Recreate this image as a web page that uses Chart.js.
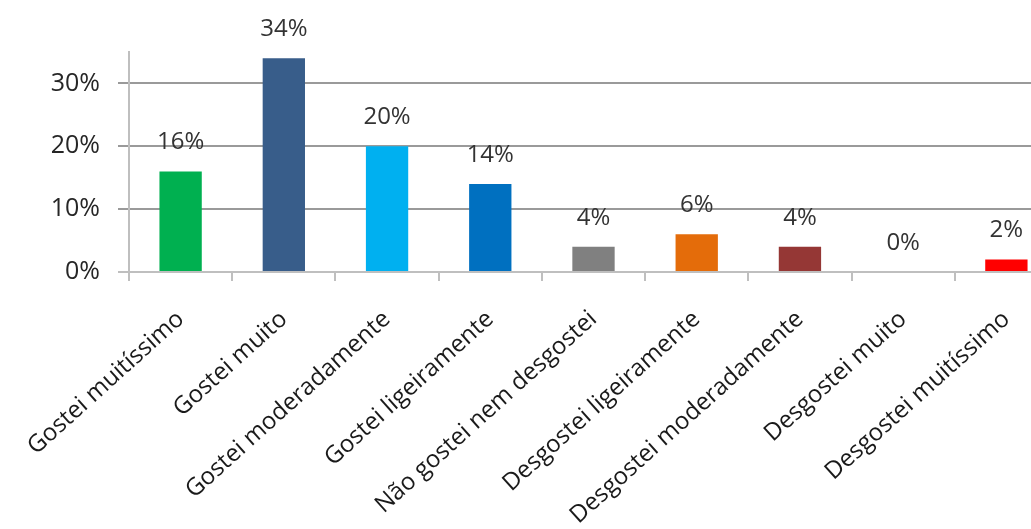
<!DOCTYPE html>
<html lang="pt">
  <head>
    <meta charset="UTF-8" />
    <title>Aceitação</title>
    <style>
      html, body { margin: 0; padding: 0; background: #fff; overflow: hidden; }
    </style>
  </head>
  <body>
    <canvas id="grafico" width="1062" height="529"></canvas>
    <script src="https://cdn.jsdelivr.net/npm/chart.js"></script>
    <script>
      // respostas da escala hedónica
      const categorias = [
        "Gostei muitíssimo",
        "Gostei muito",
        "Gostei moderadamente",
        "Gostei ligeiramente",
        "Não gostei nem desgostei",
        "Desgostei ligeiramente",
        "Desgostei moderadamente",
        "Desgostei muito",
        "Desgostei muitíssimo",
      ];
      const percentagens = [16, 34, 20, 14, 4, 6, 4, 0, 2];
      const marcasY = [0, 10, 20, 30];

      const cores = [
        "#00B050", "#385D8A", "#00B0F0", "#0070C0", "#808080",
        "#E46C0A", "#953735", "#7F6084", "#FF0000",
      ];

      const fonte = "'Open Sans', 'DejaVu Sans', sans-serif";

      // escreve o valor por cima de cada barra
      const rotulosValor = {
        id: "rotulosValor",
        afterDatasetsDraw(chart) {
          const ctx = chart.ctx;
          const meta = chart.getDatasetMeta(0);
          ctx.save();
          ctx.font = "24px " + fonte;
          ctx.fillStyle = "#333333";
          ctx.textAlign = "center";
          ctx.textBaseline = "alphabetic";
          meta.data.forEach((barra, i) => {
            ctx.fillText(percentagens[i] + "%", barra.x, barra.y - 22);
          });
          ctx.restore();
        },
      };

      const lienzo = document.getElementById("grafico");
      new Chart(lienzo, {
        type: "bar",
        data: {
          labels: categorias,
          datasets: [
            {
              data: percentagens,
              backgroundColor: cores,
              barPercentage: 0.41,
              categoryPercentage: 1,
            },
          ],
        },
        options: {
          responsive: false,
          animation: false,
          layout: { padding: { top: 52, right: 4, left: 0, bottom: 0 } },
          plugins: { legend: { display: false }, tooltip: { enabled: false } },
          scales: {
            x: {
              grid: {
                drawOnChartArea: false,
                color: "#bfbfbf",
                lineWidth: 2,
                tickLength: 9,
              },
              border: { color: "#bfbfbf", width: 2 },
              ticks: {
                minRotation: 42,
                maxRotation: 42,
                autoSkip: false,
                padding: 24,
                color: "#1a1a1a",
                font: { family: fonte, size: 24 },
              },
              afterFit(scale) {
                scale.height = 257;
                scale.paddingLeft = 0;
                scale.paddingRight = 0;
              },
            },
            y: {
              min: 0,
              max: 35,
              afterBuildTicks(axis) {
                axis.ticks = marcasY.map((v) => ({ value: v }));
              },
              grid: {
                color: (c) => (c.tick && c.tick.value === 0 ? "#bfbfbf" : "#9a9a9a"),
                lineWidth: 2,
                tickLength: 11,
              },
              border: { color: "#bfbfbf", width: 2 },
              ticks: {
                padding: 18,
                color: "#262626",
                font: { family: fonte, size: 25 },
                callback: (v) => v + "%",
              },
              afterFit(scale) {
                scale.width = 129;
              },
            },
          },
        },
        plugins: [rotulosValor],
      });
    </script>
  </body>
</html>
